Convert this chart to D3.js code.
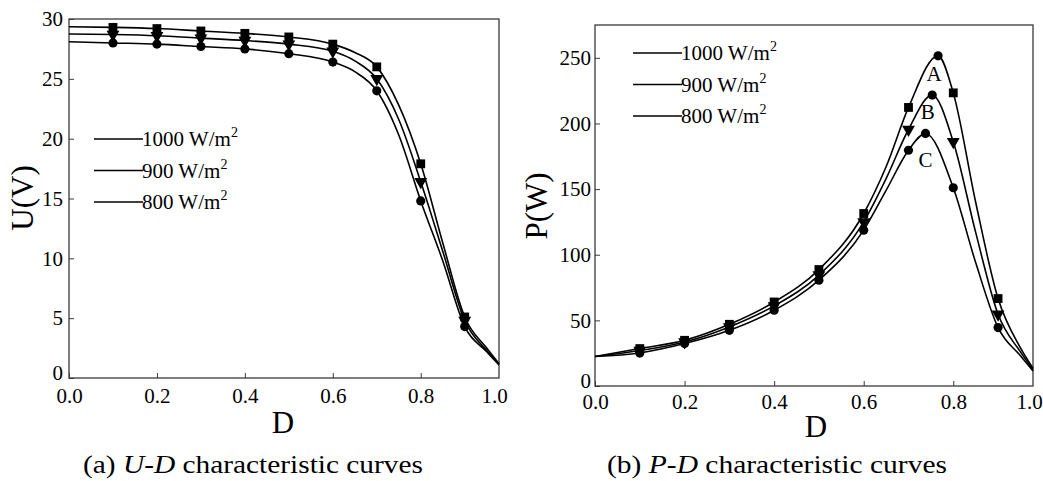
<!DOCTYPE html>
<html><head><meta charset="utf-8">
<script src="https://cdn.jsdelivr.net/npm/d3@7"></script>
<style>
body{margin:0;background:#fff}
svg{display:block}
svg text{font-family:"Liberation Serif","Tinos","Times New Roman","Times","DejaVu Serif","Noto Serif",serif !important;fill:#000}
</style>
</head><body>
<svg id="c" width="1043" height="481" font-family="Liberation Serif, DejaVu Serif, serif"></svg>
<script>
// ---------- data ----------
const seriesNames = ["1000", "900", "800"];
const markerD = [0.1, 0.2, 0.3, 0.4, 0.5, 0.6, 0.7, 0.8, 0.9];

// U-D markers
const u1000 = [29.3, 29.2, 29.0, 28.8, 28.5, 27.9, 26.0, 17.9, 5.1];
const u900  = [28.7, 28.6, 28.4, 28.2, 27.9, 27.3, 25.0, 16.4, 4.8];
const u800  = [28.0, 27.9, 27.7, 27.5, 27.1, 26.4, 24.0, 14.8, 4.3];

// U-D curves
const uCurveD    = [0, 0.1, 0.2, 0.3, 0.4, 0.5, 0.6, 0.65, 0.7, 0.75, 0.8, 0.85, 0.9, 0.95, 0.978];
const uCurve1000 = [29.35, 29.3, 29.2, 29.0, 28.8, 28.5, 27.9, 27.2, 26.0, 22.8, 17.9, 11.3, 5.1, 2.5, 1.2];
const uCurve900  = [28.75, 28.7, 28.6, 28.4, 28.2, 27.9, 27.3, 26.5, 25.0, 21.6, 16.4, 10.6, 4.8, 2.3, 1.15];
const uCurve800  = [28.1, 28.0, 27.9, 27.7, 27.5, 27.1, 26.4, 25.6, 24.0, 20.3, 14.8, 9.8, 4.3, 2.2, 1.1];

// P-D markers
const p1000 = [28.5, 34.8, 47.0, 64.0, 88.7, 131.4, 212.2, 223.3, 66.6];
const p900  = [27.0, 33.5, 45.0, 61.0, 84.5, 125.0, 195.4, 186.0, 54.6];
const p800  = [25.2, 32.3, 42.4, 57.7, 80.6, 118.7, 179.6, 151.0, 44.5];

// P-D maximum power points (A, B, C)
const peakLabels = ["A", "B", "C"];
const peakD = [0.766, 0.753, 0.738];
const peakP = [251.5, 221.6, 192.4];
const peakLabelD = [0.757, 0.743, 0.738];
const peakLabelP = [238, 209, 172];

// P-D curves
const pCurveD1000 = [0, 0.1, 0.2, 0.3, 0.4, 0.5, 0.6, 0.65, 0.7, 0.766, 0.8, 0.85, 0.9, 0.95, 0.978];
const pCurve1000  = [22.5, 28.5, 34.8, 47.0, 64.0, 88.7, 131.4, 167, 212.2, 251.5, 223.3, 140, 66.6, 29, 13.5];
const pCurveD900  = [0, 0.1, 0.2, 0.3, 0.4, 0.5, 0.6, 0.65, 0.7, 0.753, 0.8, 0.85, 0.9, 0.95, 0.978];
const pCurve900   = [22.5, 27.0, 33.5, 45.0, 61.0, 84.5, 125.0, 158, 195.4, 221.6, 186.0, 117, 54.6, 26, 12.5];
const pCurveD800  = [0, 0.1, 0.2, 0.3, 0.4, 0.5, 0.6, 0.65, 0.7, 0.738, 0.8, 0.85, 0.9, 0.95, 0.978];
const pCurve800   = [22.5, 25.2, 32.3, 42.4, 57.7, 80.6, 118.7, 149, 179.6, 192.4, 151.0, 94, 44.5, 23, 11.5];

const xMax = 0.978;
const xTicks = [0, 0.2, 0.4, 0.6, 0.8, xMax];
const uTicks = [0, 5, 10, 15, 20, 25, 30];
const pTicks = [0, 50, 100, 150, 200, 250];

// ---------- drawing ----------
const FONT = '"Liberation Serif","Tinos","Times New Roman","DejaVu Serif",serif';
const svg = d3.select("#c");
const zip = (xs, ys) => xs.map((x, i) => ({x, y: ys[i]}));
const symTypes = [d3.symbolSquare, d3.symbolTriangle, d3.symbolCircle];
const symSizes = [78, 72, 66];

function panel(o) {
  const g = svg.append("g");
  const x = d3.scaleLinear().domain([0, xMax]).range([o.left, o.right]);
  const y = d3.scaleLinear().domain(o.yDomain).range([o.bottom, o.top]);

  g.append("rect").attr("x", o.left).attr("y", o.top)
    .attr("width", o.right - o.left).attr("height", o.bottom - o.top)
    .attr("fill", "none").attr("stroke", "#3a3a3a").attr("stroke-width", 1.3);

  const xa = g.append("g").attr("transform", `translate(0,${o.bottom})`)
    .call(d3.axisBottom(x).tickValues(xTicks)
      .tickFormat(d => d === xMax ? "1.0" : d3.format(".1f")(d))
      .tickSizeInner(-5).tickSizeOuter(0).tickPadding(o.xPad));
  xa.attr("font-family", null).attr("font-size", null);
  xa.select(".domain").remove();
  xa.selectAll("line").attr("stroke", "#3a3a3a");
  xa.selectAll("text").attr("font-size", 21).attr("fill", "#000").style("font-family", FONT);
  xa.selectAll(".tick").filter(d => d === xMax).select("line").remove();
  xa.selectAll(".tick").filter(d => d === xMax).select("text").attr("dx", o.lastDx);

  const ya = g.append("g").attr("transform", `translate(${o.left},0)`)
    .call(d3.axisLeft(y).tickValues(o.yTicks)
      .tickSizeInner(-5).tickSizeOuter(0).tickPadding(o.yPad));
  ya.attr("font-family", null).attr("font-size", null);
  ya.select(".domain").remove();
  ya.selectAll("line").attr("stroke", "#3a3a3a");
  ya.selectAll("text").attr("font-size", 21).attr("fill", "#000").style("font-family", FONT);
  ya.selectAll(".tick").filter(d => d === 0).select("text").attr("dy", "0.05em");

  g.append("text").attr("x", (o.left + o.right) / 2 + o.xTitleDx).attr("y", o.xTitleY)
    .attr("text-anchor", "middle").attr("font-size", 31).style("font-family", FONT).text("D");
  g.append("text").attr("transform", `translate(${o.yTitleX},${o.yTitleY}) rotate(-90)`)
    .attr("text-anchor", "middle").attr("dominant-baseline", "central")
    .attr("font-size", 31).style("font-family", FONT).text(o.yTitle);

  const line = d3.line().x(d => x(d.x)).y(d => y(d.y)).curve(d3.curveMonotoneX);
  o.curves.forEach(c => {
    g.append("path").datum(c).attr("d", line)
      .attr("fill", "none").attr("stroke", "#000").attr("stroke-width", 1.6);
  });

  o.markers.forEach((m, i) => {
    g.selectAll(null).data(m).join("path")
      .attr("d", d3.symbol(symTypes[i], symSizes[i]))
      .attr("transform", d => `translate(${x(d.x)},${y(d.y)})` + (i === 1 ? " rotate(180)" : ""))
      .attr("fill", "#000");
  });

  seriesNames.forEach((s, i) => {
    const ly = o.legY + i * o.legStep;
    g.append("line").attr("x1", o.legX).attr("x2", o.legX + 49)
      .attr("y1", ly).attr("y2", ly).attr("stroke", "#000").attr("stroke-width", 1.6);
    const t = g.append("text").attr("x", o.legX + 48).attr("y", ly + 7)
      .attr("font-size", 21).style("font-family", FONT);
    t.append("tspan").text(s + " W/m");
    t.append("tspan").attr("dy", -9).attr("font-size", 14).text("2");
  });
  return {g, x, y};
}

panel({
  left: 69, right: 499, top: 19, bottom: 378,
  yDomain: [0, 30], yTicks: uTicks, xPad: 10, yPad: 6, lastDx: -5,
  xTitleY: 433, xTitleDx: -1, yTitleX: 22, yTitleY: 198, yTitle: "U(V)",
  curves: [zip(uCurveD, uCurve1000), zip(uCurveD, uCurve900), zip(uCurveD, uCurve800)],
  markers: [zip(markerD, u1000), zip(markerD, u900), zip(markerD, u800)],
  legX: 94, legY: 139, legStep: 31.5
});

const pb = panel({
  left: 595, right: 1033, top: 25, bottom: 386,
  yDomain: [0, 275], yTicks: pTicks, xPad: 8, yPad: 4, lastDx: -4,
  xTitleY: 437, xTitleDx: 2, yTitleX: 536, yTitleY: 206, yTitle: "P(W)",
  curves: [zip(pCurveD1000, pCurve1000), zip(pCurveD900, pCurve900), zip(pCurveD800, pCurve800)],
  markers: [zip(markerD, p1000), zip(markerD, p900), zip(markerD.concat(peakD), p800.concat(peakP))],
  legX: 633, legY: 53, legStep: 31.5
});

pb.g.selectAll(null).data(peakLabels).join("text")
  .attr("x", (d, i) => pb.x(peakLabelD[i]))
  .attr("y", (d, i) => pb.y(peakLabelP[i]))
  .attr("text-anchor", "middle").attr("dominant-baseline", "central")
  .attr("font-size", 21).style("font-family", FONT).text(d => d);

function caption(cx, label, ital) {
  const t = svg.append("text").attr("x", cx).attr("y", 473).attr("text-anchor", "middle")
    .attr("font-size", 26).style("font-family", FONT)
    .attr("textLength", 340).attr("lengthAdjust", "spacingAndGlyphs");
  t.append("tspan").text(label + " ");
  t.append("tspan").attr("font-style", "italic").text(ital);
  t.append("tspan").text(" characteristic curves");
}
caption(253, "(a)", "U-D");
caption(777, "(b)", "P-D");
</script>
</body></html>
